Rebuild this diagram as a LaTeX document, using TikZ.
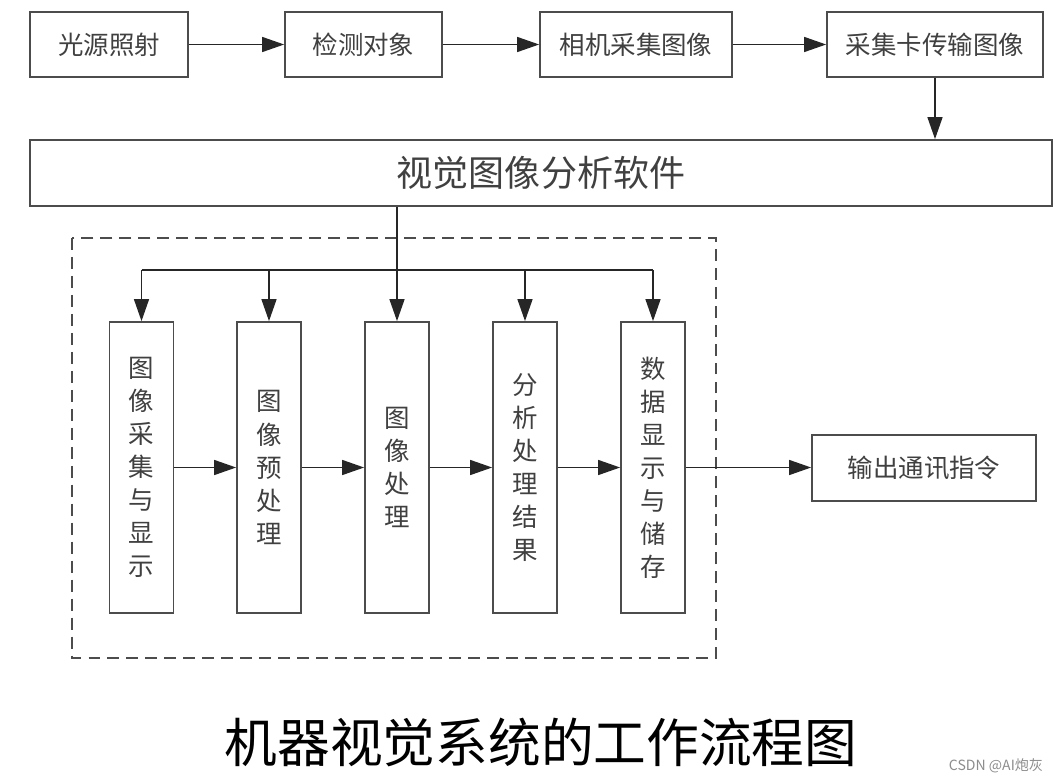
\documentclass[tikz,border=0pt]{standalone}
\usepackage{fontspec}
\newfontfamily\cjk{Noto Sans CJK SC}
\usetikzlibrary{arrows.meta}
\begin{document}
\begin{tikzpicture}[x=0.2mm,y=-0.2mm,line join=miter,
	hop/.style={draw=black!70,line width=1pt,text=black!75,inner sep=0pt,
		minimum height=13mm,font=\cjk\fontsize{14.5}{18}\selectfont},
	hopdoc/.style={hop,minimum width=12.8mm,minimum height=58.2mm,align=center,
		font=\cjk\fontsize{14.5}{18.8}\selectfont},
	mui/.style={-{Triangle[length=4.4mm,width=3mm]},line width=0.8pt,draw=black!85}]
	\useasboundingbox (0,0) rectangle (1058,782);
	\def\y{467.5}%tâm các hộp đứng
	%========4 hộp hàng trên
	\node[hop,minimum width=31.6mm] (1) at (109,44.5) {光源照射};
	\node[hop,minimum width=31.4mm] (2) at (363.5,44.5) {检测对象};
	\node[hop,minimum width=38.4mm] (3) at (636,44.5) {相机采集图像};
	\node[hop,minimum width=43.2mm] (4) at (935,44.5) {采集卡传输图像};
	%========hộp phần mềm
	\node[hop,minimum width=204.4mm,minimum height=13.2mm,
		font=\cjk\fontsize{20.5}{24}\selectfont] (S) at (541,173) {视觉图像分析软件};
	%========5 hộp đứng
	\node[hopdoc] (5) at (141.5,\y) {图\\像\\采\\集\\与\\显\\示};
	\node[hopdoc] (6) at (269,\y) {图\\像\\预\\处\\理};
	\node[hopdoc] (7) at (397,\y) {图\\像\\处\\理};
	\node[hopdoc] (8) at (525,\y) {分\\析\\处\\理\\结\\果};
	\node[hopdoc] (9) at (653,\y) {数\\据\\显\\示\\与\\储\\存};
	\node[hop,minimum width=44.8mm,minimum height=13.2mm] (10) at (924,468) {输出通讯指令};
	\coordinate (T) at (0,270);
	%========khung nét đứt
	\draw[black!70,line width=1pt,dash pattern=on 6.8pt off 4pt] (72,238) rectangle (716,658);
	\draw[mui] (1)--(2);
	\draw[mui] (2)--(3);
	\draw[mui] (3)--(4);
	\draw[mui] (4.south)--(4.south|-S.north);
	\draw[mui] (S.south-|7)--(7.north);
	\draw[line width=0.8pt,black!85] (T-|5)--(T-|9);
	\draw[mui] (T-|5)--(5.north);
	\draw[mui] (T-|6)--(6.north);
	\draw[mui] (T-|8)--(8.north);
	\draw[mui] (T-|9)--(9.north);
	\draw[mui] (5)--(6);
	\draw[mui] (6)--(7);
	\draw[mui] (7)--(8);
	\draw[mui] (8)--(9);
	\draw[mui] (9.east)--(9.east-|10.west);
	%========tiêu đề
	\node[font=\cjk\fontsize{30}{30}\selectfont] (tieude) at (541,742) {机器视觉系统的工作流程图};
	\node[font=\cjk\fontsize{8}{8}\selectfont,text=black!45] (csdn) at (996,766) {CSDN @AI炮灰};
\end{tikzpicture}
\end{document}
